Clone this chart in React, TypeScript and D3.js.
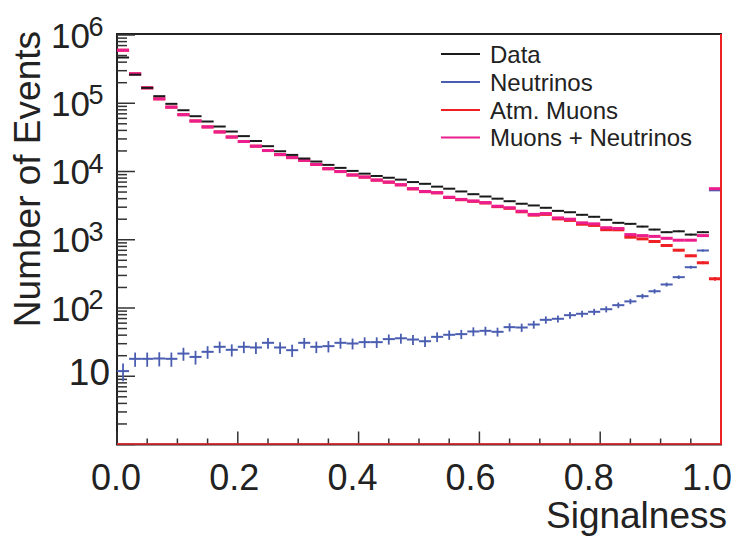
import React from "react";
import * as d3 from "d3";

const binWidth = 0.02;
const dataCounts = [468000, 262000, 168000, 127000, 98000, 79000, 64600, 54000, 45600, 38500,
  33000, 28000, 23500, 19800, 17500, 15500, 14000, 12500, 11300, 10200,
  9300, 8600, 8100, 7600, 7000, 6600, 6000, 5600, 5100, 4650,
  4300, 4000, 3670, 3370, 3180, 2940, 2650, 2530, 2320, 2170,
  1960, 1770, 1710, 1560, 1410, 1290, 1330, 1190, 1290];
const neutrinos = [11.9, 18, 18, 18.2, 18, 21.5, 19.2, 22.8, 27, 24.4,
  27, 26.4, 30.9, 26.4, 24.1, 30.9, 27, 27.6, 30.9, 30.2,
  31.6, 31.6, 35, 36, 34.5, 32.6, 37.8, 40.5, 41.4, 45.3,
  46.3, 44.8, 52.4, 51.8, 57.3, 67.1, 69.5, 78.5, 82.3, 88,
  96, 110, 125, 149, 176, 221, 283, 396, 696, 5300];
const atmMuons = [598000, 270000, 168000, 116000, 87700, 68000, 55000, 45000, 38000, 32000,
  27500, 23500, 20270, 17670, 15980, 14570, 12670, 10970, 9970, 8870,
  8270, 7470, 6965, 6364, 5565, 5067, 4862, 4160, 3859, 3655,
  3454, 3055, 2888, 2568, 2293, 2353, 2020, 1921, 1688, 1622,
  1404, 1400, 1090, 1030, 943, 824, 703, 582, 460, 268];
const muonsPlusNeutrinos = [598000, 270000, 168000, 116000, 87700, 68000, 55000, 45000, 38000, 32000,
  27500, 23500, 20300, 17700, 16000, 14600, 12700, 11000, 10000, 8900,
  8300, 7500, 7000, 6400, 5600, 5100, 4900, 4200, 3900, 3700,
  3500, 3100, 2940, 2620, 2350, 2420, 2090, 2000, 1770, 1710,
  1500, 1460, 1190, 1150, 1120, 1050, 985, 985, 1150, 5600];

const xTickValues = [0, 0.2, 0.4, 0.6, 0.8, 1.0];
const xTickLabels = ["0.0", "0.2", "0.4", "0.6", "0.8", "1.0"];
const xMinorTicks = [0, 0.05, 0.1, 0.15, 0.2, 0.25, 0.3, 0.35, 0.4, 0.45, 0.5, 0.55, 0.6, 0.65, 0.7, 0.75, 0.8, 0.85, 0.9, 0.95, 1.0];
const yDecades = [1, 10, 100, 1000, 10000, 100000, 1000000];
const yLabelExps = [1, 2, 3, 4, 5, 6];

const legendLabels = ["Data", "Neutrinos", "Atm. Muons", "Muons + Neutrinos"];
const colors = { data: "#1a1a1a", nu: "#4a5db0", mu: "#ee2024", sum: "#ec1d8c" };
const legendColors = [colors.data, colors.nu, colors.mu, colors.sum];

const FONT = "'Liberation Sans', Arial, Helvetica, sans-serif";

export default function App() {
  const W = 736, H = 538;
  const left = 117, right = 721, top = 35, bottom = 444.5;
  const x = d3.scaleLinear().domain([0, 1]).range([left, right]);
  const xLabel = d3.scaleLinear().domain([0, 1]).range([116, 707]);
  const y = d3.scaleLog().domain([1, 1e6]).range([bottom, top]);

  const minorY: number[] = [];
  yDecades.slice(0, -1).forEach((d) => {
    for (let k = 2; k <= 9; k++) minorY.push(d * k);
  });

  const drawSeries = (vals: number[], color: string, width: number, key: string) =>
    vals.map((v, i) => {
      const x0 = x(i * binWidth), x1 = x((i + 1) * binWidth);
      const xc = (x0 + x1) / 2;
      const err = Math.sqrt(v);
      const lo = Math.max(v - err, 1);
      return (
        <g key={key + i}>
          <line x1={x0} x2={x1} y1={y(v)} y2={y(v)} stroke={color} strokeWidth={width} />
          <line x1={xc} x2={xc} y1={y(lo)} y2={y(v + err)} stroke={color} strokeWidth={1.8} />
        </g>
      );
    });

  const legendYs = [54, 82, 110, 137.5];

  return (
    <svg width={W} height={H} style={{ position: "absolute", left: 0, top: 0, background: "#fff" }} fontFamily={FONT}>
      <rect x={0} y={0} width={W} height={H} fill="#fff" />
      {/* frame */}
      <rect x={left} y={top - 1} width={right - left} height={bottom - top + 1} fill="none" stroke="#222" strokeWidth={2} />
      {/* y ticks */}
      {yDecades.map((d) => (
        <line key={"yM" + d} x1={left} x2={left + 18} y1={y(d)} y2={y(d)} stroke="#333" strokeWidth={1.5} />
      ))}
      {minorY.map((d) => (
        <line key={"ym" + d} x1={left} x2={left + 10} y1={y(d)} y2={y(d)} stroke="#333" strokeWidth={1.5} />
      ))}
      {/* x ticks */}
      {xMinorTicks.map((t) => {
        const major = xTickValues.some((v) => Math.abs(v - t) < 1e-9);
        return (
          <line key={"xt" + t} x1={x(t)} x2={x(t)} y1={bottom} y2={bottom - (major ? 13 : 6)} stroke="#333" strokeWidth={1.5} />
        );
      })}
      {/* series */}
      {drawSeries(neutrinos, colors.nu, 2, "nu")}
      {drawSeries(atmMuons, colors.mu, 3, "mu")}
      {drawSeries(muonsPlusNeutrinos, colors.sum, 3, "sum")}
      {drawSeries(dataCounts, colors.data, 2, "data")}
      {/* red outline along bottom and right */}
      <line x1={left} x2={right} y1={bottom - 0.5} y2={bottom - 0.5} stroke={colors.mu} strokeWidth={1.5} />
      <line x1={right} x2={right} y1={top - 1} y2={bottom} stroke={colors.mu} strokeWidth={2} />
      {/* x labels */}
      {xTickValues.map((t, i) => (
        <text key={"xl" + t} x={xLabel(t)} y={490} fontSize={36} textAnchor="middle" fill="#222">
          {xTickLabels[i]}
        </text>
      ))}
      {/* y labels */}
      {yLabelExps.map((e) => {
        const yy = y(Math.pow(10, e));
        if (e === 1) {
          return (
            <text key={"yl" + e} x={110} y={yy + 8.5} fontSize={37} textAnchor="end" fill="#222">10</text>
          );
        }
        return (
          <g key={"yl" + e}>
            <text x={90} y={yy + 12.5} fontSize={35} textAnchor="end" fill="#222">10</text>
            <text x={88.5} y={yy + 1} fontSize={27} fill="#222">{String(e)}</text>
          </g>
        );
      })}
      {/* axis titles */}
      <text x={727} y={528} fontSize={37} textAnchor="end" fill="#222">Signalness</text>
      <text transform="translate(40,31) rotate(-90)" fontSize={37} textAnchor="end" fill="#222">Number of Events</text>
      {/* legend */}
      {legendLabels.map((l, i) => (
        <g key={"lg" + l}>
          <line x1={441} x2={480} y1={legendYs[i]} y2={legendYs[i]} stroke={legendColors[i]} strokeWidth={2} />
          <text x={490} y={legendYs[i] + 8.5} fontSize={24} fill="#222">{l}</text>
        </g>
      ))}
    </svg>
  );
}
